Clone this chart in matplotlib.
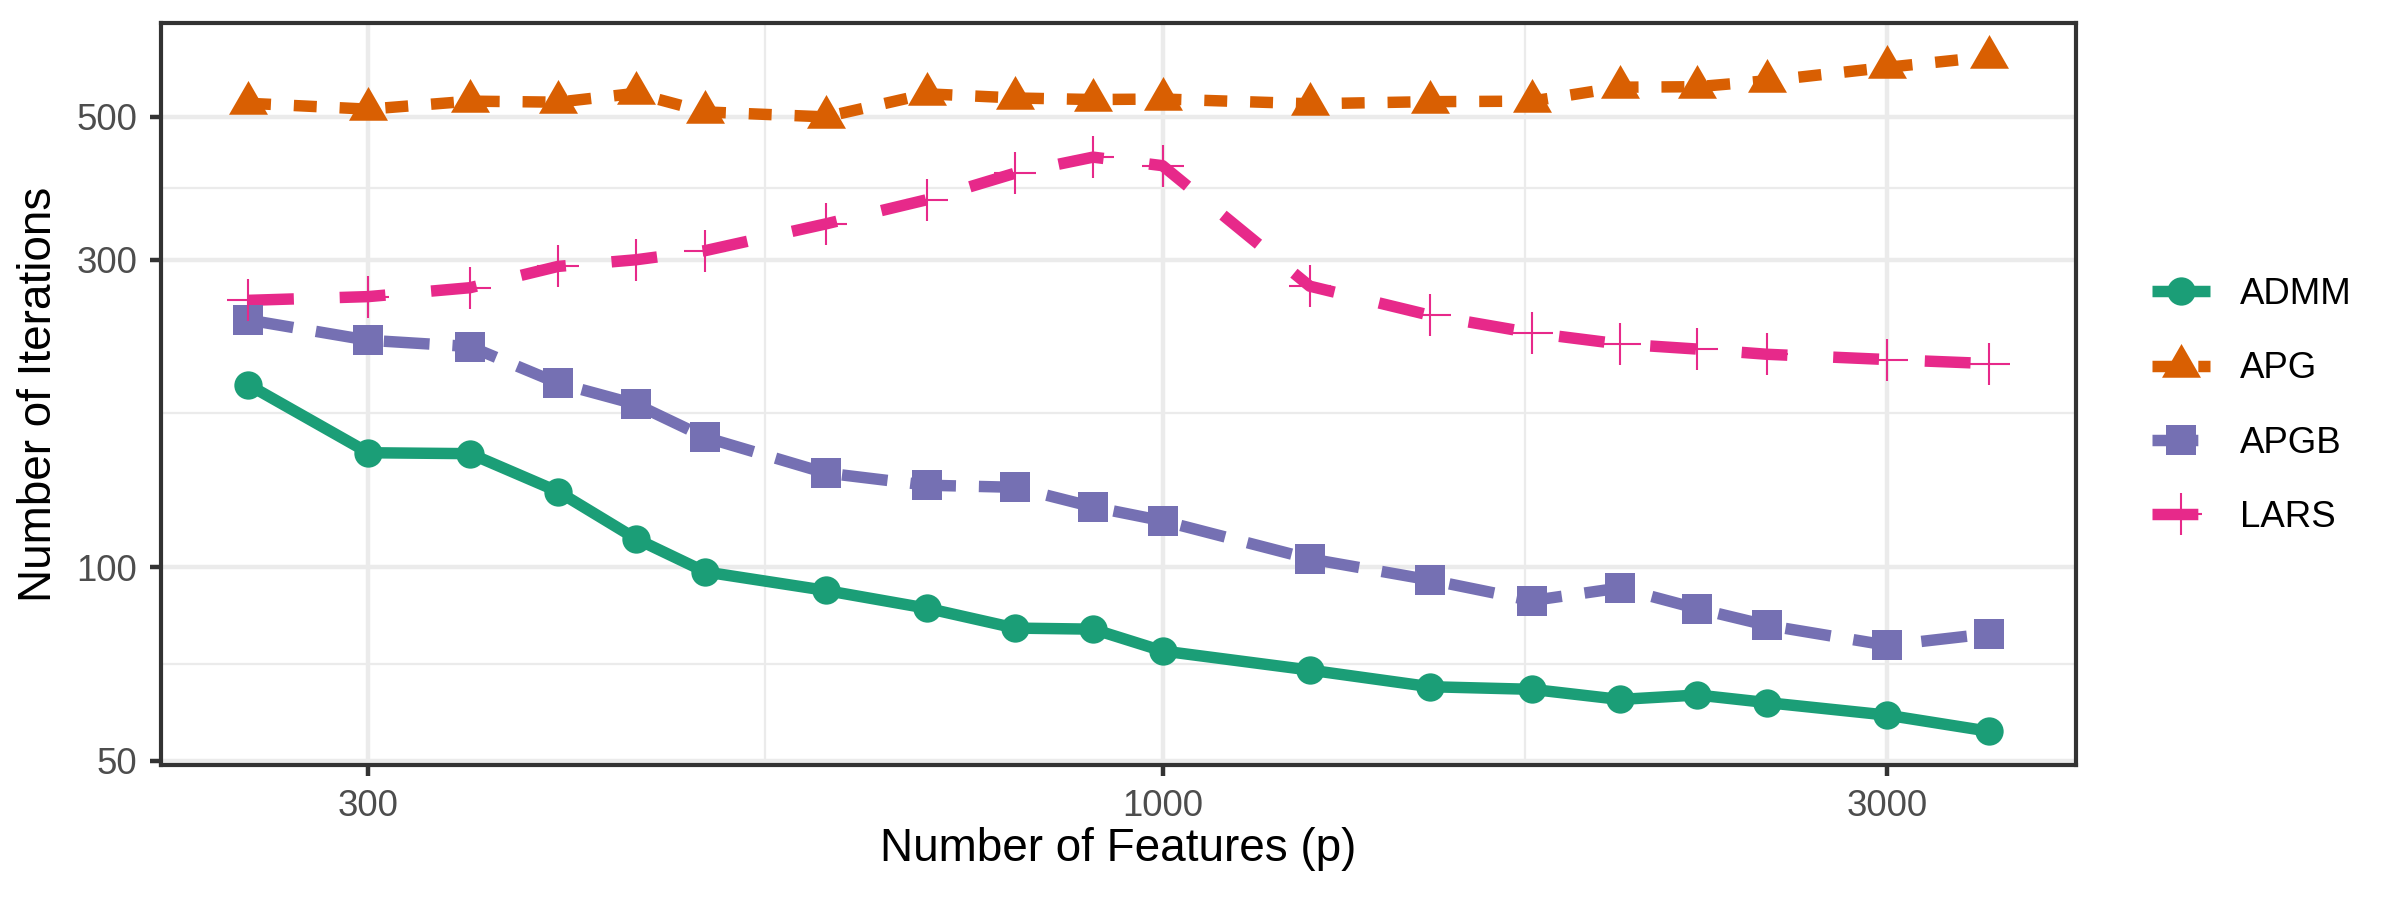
import numpy as np
import matplotlib
matplotlib.use("Agg")
import matplotlib.pyplot as plt
from matplotlib.lines import Line2D
from matplotlib.ticker import FixedLocator, FixedFormatter, NullFormatter

plt.rcParams['font.family'] = ['Liberation Sans', 'DejaVu Sans']

# -------------------------------------------------
# data
# -------------------------------------------------
p = [250, 300, 350, 400, 450, 500, 600, 700, 800, 900, 1000,
     1250, 1500, 1750, 2000, 2250, 2500, 3000, 3500]

admm = [192, 150.5, 150, 131, 110.7, 98.3, 92, 86.3, 80.4, 80.1, 74.1,
        69.2, 65.2, 64.6, 62.3, 63.3, 61.6, 58.9, 55.6]
apg = [525, 514, 529, 527, 544, 509, 500, 543, 535, 532, 533,
       524, 528, 529, 556, 557, 569, 597, 620]
apgb = [242, 225, 220, 193, 179, 159, 140, 134, 133, 124, 118,
        103, 95.5, 88.7, 92.8, 86.2, 81.2, 75.6, 78.8]
lars = [259.5, 263, 271.5, 293, 300, 310, 341, 372, 409, 433, 420,
        273, 246, 231, 222, 218, 214, 210, 207]

methods = ['ADMM', 'APG', 'APGB', 'LARS']
series = [admm, apg, apgb, lars]

x_breaks = [300, 1000, 3000]
y_breaks = [50, 100, 300, 500]

# -------------------------------------------------
# styles (ggplot Dark2 + default linetypes)
# -------------------------------------------------
colors = ['#1B9E77', '#D95F02', '#7570B3', '#E7298A']
dashes = ['-', (0, (2, 2)), (0, (4, 2)), (0, (4, 4))]
# triangle centred on its centroid, like R's pch 17
tri = [(0, 1), (-0.866, -0.5), (0.866, -0.5), (0, 1)]
markers = ['o', tri, 's', '+']
msizes = [6.8, 10.8, 7.0, 10.0]
LW = 2.75

fig = plt.figure(figsize=(8, 3), dpi=300)
ax = fig.add_axes([161/2400, 135/900, 1915/2400, 742/900])

# lines first, then points on top (ggplot layer order)
for y, c, ls in zip(series, colors, dashes):
    ax.plot(p, y, color=c, lw=LW, linestyle=ls, zorder=3,
            solid_capstyle='butt', dash_capstyle='butt')

for y, c, m, ms in zip(series, colors, markers, msizes):
    ax.plot(p, y, linestyle='none', marker=m, ms=ms, color=c,
            mec=c, mew=0.5 if m == '+' else 0, zorder=4)

ax.set_xscale('log')
ax.set_yscale('log')

# ggplot style 5% expansion on the log scale
lx = np.log10([min(p), max(p)])
ex = 0.05 * (lx[1] - lx[0])
ax.set_xlim(10**(lx[0]-ex), 10**(lx[1]+ex))
all_y = np.concatenate([admm, apg, apgb, lars])
ly = np.log10([all_y.min(), all_y.max()])
ey = 0.05 * (ly[1] - ly[0])
ax.set_ylim(10**(ly[0]-ey), 10**(ly[1]+ey))

ax.xaxis.set_major_locator(FixedLocator(x_breaks))
ax.xaxis.set_major_formatter(FixedFormatter([str(v) for v in x_breaks]))
ax.yaxis.set_major_locator(FixedLocator(y_breaks))
ax.yaxis.set_major_formatter(FixedFormatter([str(v) for v in y_breaks]))
x_minor = [np.sqrt(a*b) for a, b in zip(x_breaks[:-1], x_breaks[1:])]
y_minor = [np.sqrt(a*b) for a, b in zip(y_breaks[:-1], y_breaks[1:])]
ax.xaxis.set_minor_locator(FixedLocator(x_minor))
ax.yaxis.set_minor_locator(FixedLocator(y_minor))
ax.xaxis.set_minor_formatter(NullFormatter())
ax.yaxis.set_minor_formatter(NullFormatter())

ax.grid(True, which='major', color='#EBEBEB', lw=1.07, zorder=0)
ax.grid(True, which='minor', color='#EBEBEB', lw=0.53, zorder=0)
ax.set_axisbelow(True)

ax.tick_params(which='major', length=2.75, width=1.07, color='#333333',
               labelsize=8.8, labelcolor='#4D4D4D', pad=2.9)
ax.tick_params(which='minor', length=0)
for s in ax.spines.values():
    s.set_color('#333333')
    s.set_linewidth(1.0)

ax.set_xlabel('Number of Features (p)', fontsize=11, color='black')
ax.set_ylabel('Number of Iterations', fontsize=11, color='black')
ax.xaxis.set_label_coords(0.5, -0.083)
ax.yaxis.set_label_coords(-0.052, 0.5)

handles = []
for c, ls, m, ms in zip(colors, dashes, markers, msizes):
    handles.append(Line2D([], [], color=c, lw=LW, linestyle=ls, marker=m,
                          ms=ms, mec=c, mew=0.5 if m == '+' else 0,
                          solid_capstyle='butt', dash_capstyle='butt'))

fig.legend(handles, methods, loc='center left',
           bbox_to_anchor=(2152/2400, 1 - 406/900), frameon=False,
           fontsize=8.8, handlelength=1.58, handletextpad=0.82,
           labelspacing=1.07, borderpad=0, borderaxespad=0, numpoints=1)

fig.savefig('out.png', dpi=300)
